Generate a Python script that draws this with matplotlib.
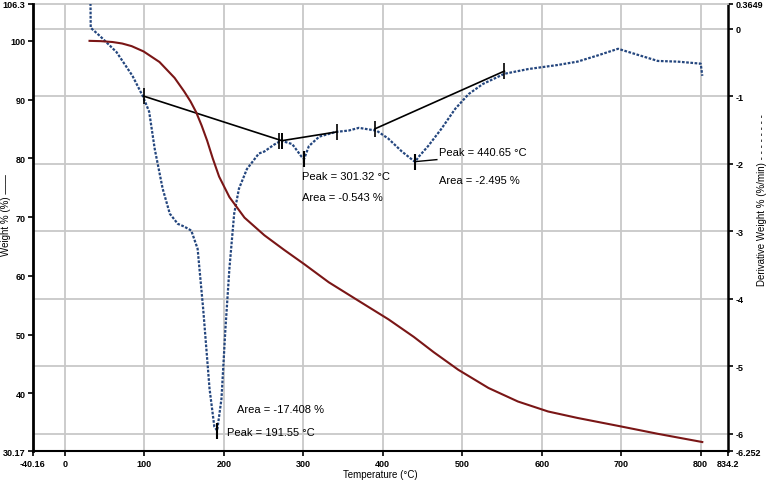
import numpy as np
import matplotlib.pyplot as plt

plt.rcParams['font.family'] = ['Liberation Sans', 'DejaVu Sans']

# Weight % curve (TGA)
temp_w = [31, 45, 60, 72, 84, 99, 119, 138, 150, 158, 165, 172, 179, 186, 194, 207,
          226, 251, 276, 301, 332, 370, 407, 439, 464, 495, 533, 570, 608, 645,
          698, 746, 802]
weight = [100.0, 99.95, 99.8, 99.55, 99.1, 98.2, 96.4, 93.7, 91.4, 89.7, 87.9, 85.6,
          83.0, 80.0, 76.9, 73.4, 69.9, 66.9, 64.4, 62.0, 58.9, 55.7, 52.6, 49.6,
          47.0, 44.0, 40.9, 38.6, 36.9, 35.8, 34.4, 33.1, 31.7]

# Derivative weight curve (DTG)
temp_d = [32.0, 32.5, 44, 65, 85, 98, 106, 113, 123, 132, 142, 150, 159, 167, 174,
          182, 188, 191.6, 197, 202, 207, 213, 219, 229, 244, 251, 263, 272, 286,
          298, 301, 307, 320, 341, 357, 370, 386, 392, 407, 424, 439, 441, 445,
          457, 474, 491, 508, 526, 553, 583, 620, 645, 670, 696, 721, 746, 771,
          800, 802]
deriv = [0.6, 0.01, -0.11, -0.35, -0.70, -1.00, -1.23, -1.78, -2.37, -2.74, -2.89,
         -2.93, -2.99, -3.26, -4.15, -5.33, -5.89, -5.95, -5.48, -4.44, -3.55,
         -2.74, -2.37, -2.08, -1.85, -1.82, -1.72, -1.66, -1.71, -1.90, -1.93,
         -1.74, -1.60, -1.53, -1.51, -1.47, -1.50, -1.51, -1.63, -1.82, -1.96,
         -1.97, -1.90, -1.74, -1.48, -1.19, -0.97, -0.82, -0.67, -0.60, -0.54,
         -0.49, -0.40, -0.30, -0.39, -0.48, -0.49, -0.52, -0.70]

# Peak analysis baselines (start T, start d, end T, end d)
base_t0 = [99, 273, 390]
base_d0 = [-1.0, -1.66, -1.485]
base_t1 = [273, 342, 553]
base_d1 = [-1.66, -1.53, -0.63]

peak_t = [191.55, 301.32, 440.65]
peak_d = [-5.95, -1.93, -1.97]
peak_text = ['Peak = 191.55 °C', 'Peak = 301.32 °C', 'Peak = 440.65 °C']
area_text = ['Area = -17.408 %', 'Area = -0.543 %', 'Area = -2.495 %']
peak_text_pos = [(204, -5.97), (298, -2.18), (471, -1.83)]
area_text_pos = [(217, -5.63), (298, -2.50), (471, -2.24)]

xticks = [-40.16, 0, 100, 200, 300, 400, 500, 600, 700, 800, 834.2]
yticks_w = [30.17, 40, 50, 60, 70, 80, 90, 100, 106.3]
yticks_d = [-6.252, -6, -5, -4, -3, -2, -1, 0, 0.3649]

fig = plt.figure(figsize=(7.67, 4.85), dpi=100)
ax2 = fig.add_axes([0.043, 0.068, 0.906, 0.922])
ax1 = ax2.twinx()
# weight axis on the left, derivative axis on the right
ax2.yaxis.tick_right()
ax2.yaxis.set_label_position('right')
ax1.yaxis.tick_left()
ax1.yaxis.set_label_position('left')
ax1.set_zorder(ax2.get_zorder() + 1)
ax1.patch.set_visible(False)

ax2.set_xlim(-40.16, 834.2)
ax2.set_ylim(-6.252, 0.3649)
ax1.set_ylim(30.17, 106.3)

# grid
grid_c = '#c8c8c8'
for t in xticks[1:-1]:
    ax2.axvline(t, color=grid_c, lw=1.3, zorder=0)
for d in yticks_d[1:-1]:
    ax2.axhline(d, color=grid_c, lw=1.3, zorder=0)

ax2.plot(temp_d, deriv, color='#24467e', lw=1.6, ls=(0, (1.2, 0.7)), zorder=3)
ax1.plot(temp_w, weight, color='#7a1616', lw=1.5)

for i in range(3):
    ax2.plot([base_t0[i], base_t1[i]], [base_d0[i], base_d1[i]], color='black', lw=1.2, zorder=4)
    ax2.plot([base_t0[i], base_t1[i]], [base_d0[i], base_d1[i]], ls='none', marker='|',
             ms=11, mew=1.2, color='black', zorder=4)
    ax2.plot(peak_t[i], peak_d[i], marker='|', ms=11, mew=1.5, color='black', zorder=4)
    ax2.text(*peak_text_pos[i], peak_text[i], fontsize=8, va='center', ha='left')
    ax2.text(*area_text_pos[i], area_text[i], fontsize=8, va='center', ha='left')
# extra baseline tick for double marker
ax2.plot(base_t1[0] - 3, base_d1[0], marker='|', ms=11, mew=1.2, color='black', zorder=4)
ax2.plot([peak_t[2], peak_text_pos[2][0] - 3], [peak_d[2], peak_d[2] + 0.03], color='black', lw=1)

ax2.set_xticks(xticks)
ax2.set_xticklabels(['-40.16', '0', '100', '200', '300', '400', '500', '600', '700', '800', '834.2'])
ax2.set_yticks(yticks_d)
ax2.set_yticklabels(['-6.252', '-6', '-5', '-4', '-3', '-2', '-1', '0', '0.3649'])
ax1.set_yticks(yticks_w)
ax1.set_yticklabels(['30.17', '40', '50', '60', '70', '80', '90', '100', '106.3'])

for ax in (ax1, ax2):
    ax.tick_params(labelsize=6.5, length=3.5, width=1.2, pad=2, colors='black')
    for lbl in ax.get_xticklabels() + ax.get_yticklabels():
        lbl.set_fontweight('bold')
    for s in ax.spines.values():
        s.set_visible(False)
ax1.spines['left'].set_visible(True)
ax1.spines['left'].set_linewidth(2)
ax2.spines['right'].set_visible(True)
ax2.spines['right'].set_linewidth(1.8)
ax2.spines['bottom'].set_visible(True)
ax2.spines['bottom'].set_linewidth(1.5)
ax2.spines['top'].set_visible(True)
ax2.spines['top'].set_color(grid_c)
ax2.spines['top'].set_linewidth(1.3)

ax2.set_xlabel('Temperature (°C)', fontsize=7, labelpad=1)
ax1.set_ylabel('Weight % (%) ——', fontsize=7)
ax2.set_ylabel('Derivative Weight % (%/min) - - - - - - - -', fontsize=7)
ax1.yaxis.set_label_coords(-0.031, 0.53)
ax2.yaxis.set_label_coords(1.042, 0.564)

fig.savefig('out.png', dpi=100)
